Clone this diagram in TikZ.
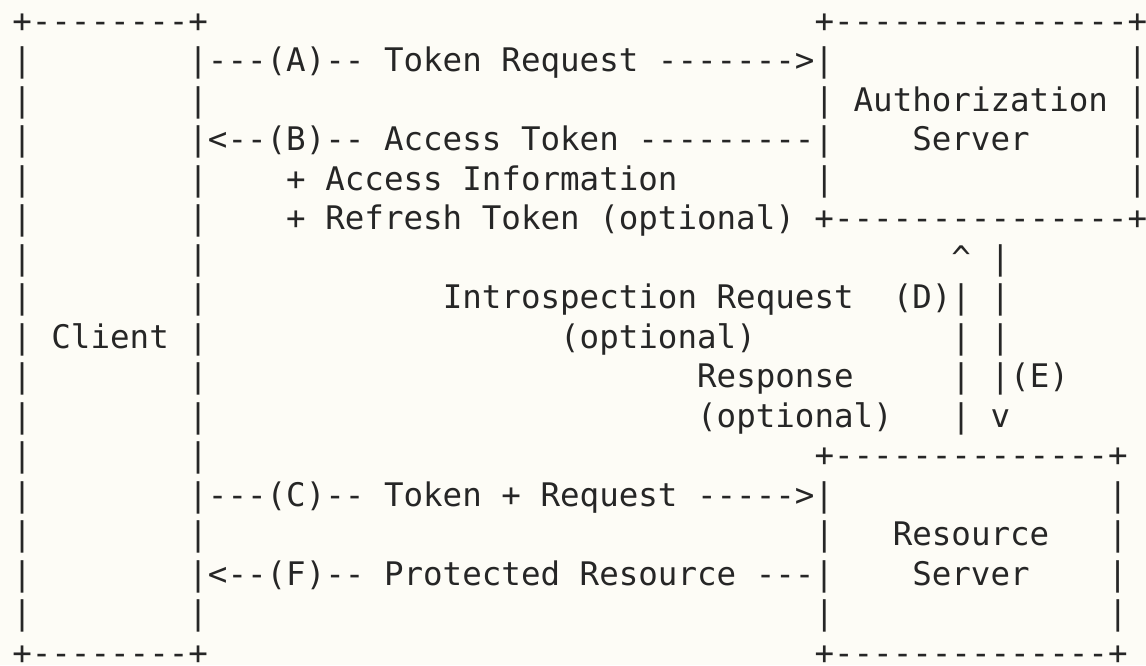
\documentclass[tikz,border=0pt]{standalone}
\usepackage{fontspec}
\setmonofont{DejaVu Sans Mono}
\definecolor{paper}{RGB}{253,252,246}
\definecolor{ink}{RGB}{38,38,38}
% one blank column of the monospaced grid
\newcommand{\blanks}[1]{\hspace*{#1\fontcharwd\font`x}}
\tikzset{ascii/.style={anchor=base west,inner sep=0pt,text=ink,
    font=\ttfamily\frenchspacing\fontsize{16.25pt}{19.75pt}\selectfont}}

\begin{document}
\begin{tikzpicture}[x=0.5pt,y=-0.5pt]
    \useasboundingbox (0,0) rectangle (1146,665);
    \fill[paper] (0,0) rectangle (1146,665);

    \node[ascii] (top) at (11.9,32) {+--------+\blanks{31}+---------------+};
    \node[ascii] (msgA) at (11.9,71.5) {|\blanks{8}|---(A)-- Token Request ------->|\blanks{15}|};
    \node[ascii] (authz) at (11.9,111) {|\blanks{8}|\blanks{31}| Authorization |};
    \node[ascii] (msgB) at (11.9,150.5) {|\blanks{8}|<--(B)-- Access Token ---------|\blanks{4}Server\blanks{5}|};
    \node[ascii] (info) at (11.9,190) {|\blanks{8}|\blanks{4}+ Access Information\blanks{7}|\blanks{15}|};
    \node[ascii] (refresh) at (11.9,229.5) {|\blanks{8}|\blanks{4}+ Refresh Token (optional) +---------------+};
    \node[ascii] (up) at (11.9,269) {|\blanks{8}|\blanks{38}\textasciicircum\blanks{1}|};
    \node[ascii] (msgD) at (11.9,308.5) {|\blanks{8}|\blanks{12}Introspection Request\blanks{2}(D)|\blanks{1}|};
    \node[ascii] (client) at (11.9,348) {| Client |\blanks{18}(optional)\blanks{10}|\blanks{1}|};
    \node[ascii] (msgE) at (11.9,387.5) {|\blanks{8}|\blanks{25}Response\blanks{5}|\blanks{1}|(E)};
    \node[ascii] (down) at (11.9,427) {|\blanks{8}|\blanks{25}(optional)\blanks{3}|\blanks{1}v};
    \node[ascii] (rstop) at (11.9,466.5) {|\blanks{8}|\blanks{31}+--------------+};
    \node[ascii] (msgC) at (11.9,506) {|\blanks{8}|---(C)-- Token + Request ----->|\blanks{14}|};
    \node[ascii] (resource) at (11.9,545.5) {|\blanks{8}|\blanks{31}|\blanks{3}Resource\blanks{3}|};
    \node[ascii] (msgF) at (11.9,585) {|\blanks{8}|<--(F)-- Protected Resource ---|\blanks{4}Server\blanks{4}|};
    \node[ascii] (rsbody) at (11.9,624.5) {|\blanks{8}|\blanks{31}|\blanks{14}|};
    \node[ascii] (bottom) at (11.9,664) {+--------+\blanks{31}+--------------+};
\end{tikzpicture}
\end{document}
